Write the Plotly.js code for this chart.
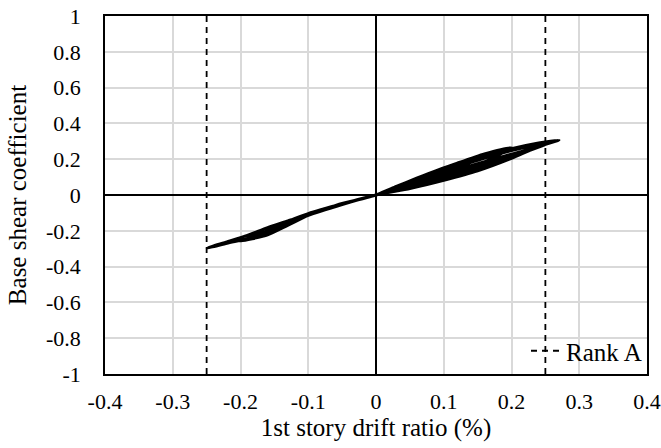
<!DOCTYPE html>
<html>
<head>
<meta charset="utf-8">
<script src="https://cdn.plot.ly/plotly-3.0.1.min.js"></script>
<style>
html,body{margin:0;padding:0;background:#fff;}
#wrap{position:relative;width:661px;height:448px;}
#chart{position:absolute;left:0;top:0;width:661px;height:448px;z-index:1;}
#pre{position:absolute;left:300px;top:200px;font-family:"Liberation Serif";font-size:20px;color:#fff;z-index:0;}
#chart text{font-family:"Liberation Serif","Times New Roman",serif !important;}
</style>
</head>
<body>
<div id="wrap">
<div id="pre">Base shear coefficient Rank A 0.1</div>
<div id="chart"></div>
</div>
<script>
// Hysteresis record: 1st story drift ratio (%) vs base shear coefficient
const driftRatio = [
  0, 0.025, 0.05, 0.075, 0.1, 0.075, 0.05, 0.025, 0,
  -0.05, -0.1, -0.05, 0,
  0.03, 0.06, 0.09, 0.12, 0.15, 0.12, 0.09, 0.06, 0.03, 0,
  -0.05, -0.1, -0.13, -0.15, -0.13, -0.1, -0.05, 0,
  0.04, 0.08, 0.12, 0.16, 0.2, 0.16, 0.12, 0.08, 0.04, 0,
  -0.05, -0.1, -0.13, -0.16, -0.2, -0.17, -0.14, -0.1, -0.05, 0,
  0.05, 0.1, 0.15, 0.2, 0.24, 0.27, 0.24, 0.2, 0.15, 0.1, 0.05, 0,
  -0.05, -0.1, -0.14, -0.18, -0.22, -0.249, -0.22, -0.19, -0.16, -0.13, -0.1, -0.05, 0,
  0.05, 0.1, 0.15, 0.2, 0.26, 0.22, 0.18, 0.12, 0.06, 0,
  0.05, 0.1, 0.15, 0.2, 0.25, 0.2, 0.15, 0.1, 0.05, 0
];
const baseShear = [
  0, 0.04, 0.076, 0.11, 0.14, 0.085, 0.052, 0.022, 0,
  -0.05, -0.108, -0.047, 0,
  0.048, 0.094, 0.138, 0.178, 0.212, 0.14, 0.094, 0.056, 0.024, 0,
  -0.05, -0.11, -0.16, -0.205, -0.148, -0.104, -0.049, 0,
  0.062, 0.122, 0.178, 0.23, 0.265, 0.185, 0.125, 0.075, 0.034, 0,
  -0.052, -0.112, -0.168, -0.222, -0.258, -0.215, -0.17, -0.106, -0.049, 0,
  0.074, 0.142, 0.206, 0.258, 0.29, 0.307, 0.27, 0.205, 0.135, 0.082, 0.036, 0,
  -0.053, -0.114, -0.186, -0.236, -0.27, -0.296, -0.262, -0.226, -0.182, -0.145, -0.107, -0.05, 0,
  0.068, 0.132, 0.194, 0.248, 0.297, 0.24, 0.19, 0.115, 0.052, 0,
  0.06, 0.118, 0.175, 0.228, 0.28, 0.218, 0.16, 0.105, 0.05, 0
];
const rankALimit = [-0.25, 0.25];
const rankAName = "Rank A";
const xTickVals = [-0.4, -0.3, -0.2, -0.1, 0, 0.1, 0.2, 0.3, 0.4];
const xTickText = ["-0.4", "-0.3", "-0.2", "-0.1", "0", "0.1", "0.2", "0.3", "0.4"];
const yTickVals = [-1, -0.8, -0.6, -0.4, -0.2, 0, 0.2, 0.4, 0.6, 0.8, 1];
const yTickText = ["-1", "-0.8", "-0.6", "-0.4", "-0.2", "0", "0.2", "0.4", "0.6", "0.8", "1"];

const fam = "Times New Roman";

const traces = [
  {
    x: driftRatio, y: baseShear, type: "scatter", mode: "lines",
    line: {color: "#000", width: 3, shape: "spline", smoothing: 0.6},
    showlegend: false, hoverinfo: "skip"
  },
  {
    x: [rankALimit[0], rankALimit[0], null, rankALimit[1], rankALimit[1]],
    y: [-1, 1, null, -1, 1],
    type: "scatter", mode: "lines", name: rankAName,
    line: {color: "#000", width: 1.8, dash: "6px,5px"},
    showlegend: true
  }
];

const layout = {
  width: 661, height: 448,
  margin: {l: 105, r: 14, t: 16, b: 74},
  paper_bgcolor: "rgba(255,255,255,0)", plot_bgcolor: "#fff",
  font: {family: fam, color: "#000", size: 22},
  showlegend: true,
  legend: {
    x: 1, xanchor: "right", y: 0, yanchor: "bottom",
    bgcolor: "rgba(255,255,255,0)", borderwidth: 0,
    font: {family: fam, size: 25, color: "#000"}
  },
  xaxis: {
    range: [-0.4, 0.4], tickvals: xTickVals, ticktext: xTickText,
    showgrid: true, gridcolor: "#d9d9d9", gridwidth: 1.5,
    zeroline: true, zerolinecolor: "#000", zerolinewidth: 1.5,
    showline: true, linecolor: "#000", linewidth: 1.5, mirror: true,
    ticks: "outside", ticklen: 7, tickcolor: "rgba(0,0,0,0)",
    tickfont: {family: fam, size: 22, color: "#000"},
    title: {text: "1st story drift ratio (%)", font: {family: fam, size: 25, color: "#000"}, standoff: 2}
  },
  yaxis: {
    range: [-1, 1], tickvals: yTickVals, ticktext: yTickText,
    showgrid: true, gridcolor: "#d9d9d9", gridwidth: 1.5,
    zeroline: true, zerolinecolor: "#000", zerolinewidth: 1.5,
    showline: true, linecolor: "#000", linewidth: 1.5, mirror: true,
    ticks: "outside", ticklen: 18, tickcolor: "rgba(0,0,0,0)",
    tickfont: {family: fam, size: 22, color: "#000"},
    title: {text: "Base shear coefficient", font: {family: fam, size: 25, color: "#000"}, standoff: 12}
  }
};

Plotly.newPlot("chart", traces, layout, {displayModeBar: false});
</script>
</body>
</html>
